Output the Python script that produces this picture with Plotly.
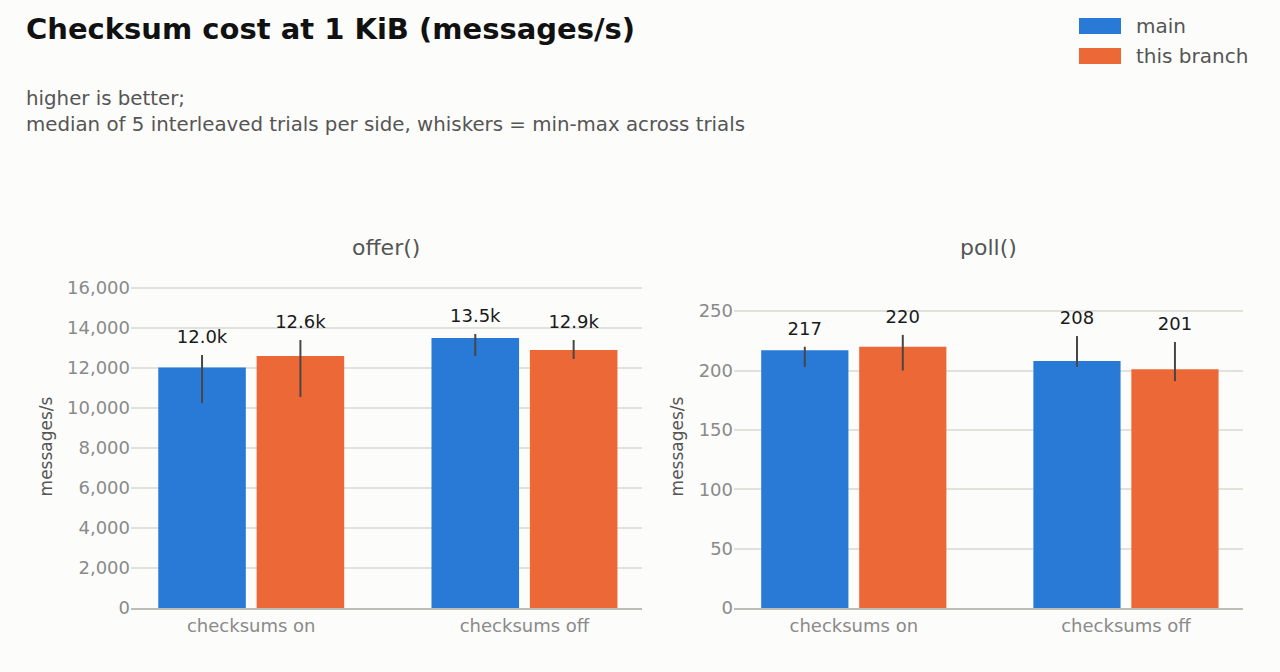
import plotly.graph_objects as go

# data
categories = ["checksums on", "checksums off"]

offer_main = [12020, 13500]
offer_main_min = [10250, 12600]
offer_main_max = [12650, 13700]
offer_branch = [12600, 12900]
offer_branch_min = [10550, 12450]
offer_branch_max = [13400, 13400]

poll_main = [217, 208]
poll_main_min = [203, 203]
poll_main_max = [220, 229]
poll_branch = [220, 201]
poll_branch_min = [200, 191]
poll_branch_max = [230, 224]

series_names = ["main", "this branch"]
colors = ["#2979d6", "#ec6836"]

FONT = "DejaVu Sans"
BG = "#fcfcfa"


def k_label(v):
    return f"{v / 1000:.1f}k"


def int_label(v):
    return f"{v:.0f}"


panels = [
    ("x", "y", [offer_main, offer_branch],
     [offer_main_min, offer_branch_min], [offer_main_max, offer_branch_max], k_label),
    ("x2", "y2", [poll_main, poll_branch],
     [poll_main_min, poll_branch_min], [poll_main_max, poll_branch_max], int_label),
]

fig = go.Figure()

for xa, ya, vals, mins, maxs, fmt in panels:
    for i in range(2):
        v, lo, hi = vals[i], mins[i], maxs[i]
        fig.add_trace(go.Bar(
            x=categories, y=v, xaxis=xa, yaxis=ya,
            name=series_names[i], offsetgroup=str(i),
            marker=dict(color=colors[i], line=dict(width=0)),
            error_y=dict(type="data", symmetric=False,
                         array=[h - m for h, m in zip(hi, v)],
                         arrayminus=[m - l for m, l in zip(v, lo)],
                         width=0, thickness=2, color="#474747"),
            showlegend=False, hoverinfo="skip",
        ))
        # value labels sit above the whisker tops (invisible marker pads them up)
        fig.add_trace(go.Scatter(
            x=categories, y=hi, xaxis=xa, yaxis=ya,
            mode="markers+text", text=[fmt(t) for t in v],
            marker=dict(size=10, opacity=0),
            textposition="top center", offsetgroup=str(i),
            textfont=dict(family=FONT, size=18, color="#1a1a1a"),
            showlegend=False, hoverinfo="skip", cliponaxis=False,
        ))

axis_common = dict(
    showgrid=False, showline=True, linecolor="#bdbdb5", linewidth=2,
    ticks="", tickfont=dict(family=FONT, size=18, color="#8a8a8a"),
    range=[-0.44, 1.43], fixedrange=True,
)
yaxis_common = dict(
    showgrid=True, gridcolor="#e2e2dc", gridwidth=1.5, zeroline=False,
    showline=False, ticks="", tickfont=dict(family=FONT, size=18, color="#8a8a8a"),
    title=dict(text="messages/s", font=dict(family=FONT, size=17, color="#555555"),
               standoff=10),
    separatethousands=True, tickformat=",d", fixedrange=True,
)

fig.update_layout(
    width=1280, height=672,
    paper_bgcolor=BG, plot_bgcolor=BG,
    margin=dict(l=131, r=37, t=285, b=64),
    barmode="group", bargap=0.28, bargroupgap=0.11,
    scattermode="group", scattergap=0.28,
    showlegend=False,
    font=dict(family=FONT, color="#555555"),
    xaxis=dict(domain=[0, 0.4595], **axis_common),
    xaxis2=dict(domain=[0.5423, 1], anchor="y2", **axis_common),
    yaxis=dict(range=[0, 16150], dtick=2000, anchor="x", **yaxis_common),
    yaxis2=dict(range=[0, 272], dtick=50, anchor="x2", **yaxis_common),
    title=dict(text="<b>Checksum cost at 1 KiB (messages/s)</b>",
               x=26 / 1280, xref="container", xanchor="left",
               y=1 - 29 / 672, yref="container", yanchor="middle",
               font=dict(family=FONT, size=29, color="#111111")),
)

# subtitle
fig.add_annotation(
    text="higher is better;<br>median of 5 interleaved trials per side, whiskers = min-max across trials",
    xref="paper", yref="paper", x=-107 / 1112, y=1 + (285 - 85) / 323,
    xanchor="left", yanchor="top", align="left", showarrow=False,
    font=dict(family=FONT, size=19.8, color="#555555"),
)

# panel titles
for name, xref in [("offer()", "x domain"), ("poll()", "x2 domain")]:
    fig.add_annotation(
        text=name, xref=xref, yref="paper", x=0.5, y=1 + (285 - 247) / 323,
        xanchor="center", yanchor="middle", showarrow=False,
        font=dict(family=FONT, size=22, color="#555555"),
    )

# legend drawn by hand to get the wide swatches
for i, name in enumerate(series_names):
    top = 18 + 30 * i
    fig.add_shape(
        type="rect", xref="paper", yref="paper",
        x0=(1079 - 131) / 1112, x1=(1121 - 131) / 1112,
        y0=(608 - top) / 323, y1=(608 - top - 16) / 323,
        fillcolor=colors[i], line=dict(width=0),
    )
    fig.add_annotation(
        text=name, xref="paper", yref="paper",
        x=(1134 - 131) / 1112, y=(608 - top - 8) / 323,
        xanchor="left", yanchor="middle", showarrow=False,
        font=dict(family=FONT, size=20, color="#555555"),
    )

# drop the page margin so the figure sits flush in the window
fig.write_html("out.html", config={"displayModeBar": False},
               post_script="document.body.style.margin='0';")
